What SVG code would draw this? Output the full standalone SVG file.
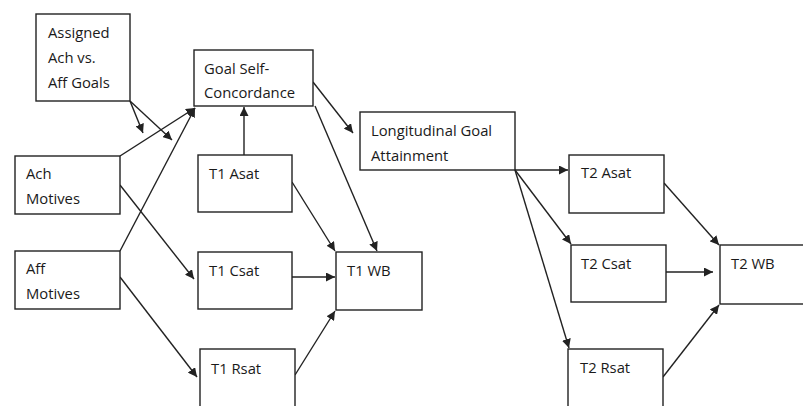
<svg xmlns="http://www.w3.org/2000/svg" width="803" height="406" viewBox="0 0 803 406">
<style>
.box{fill:#fff;stroke:#222;stroke-width:1.4}
.t{font-family:"Open Sans","Liberation Sans",sans-serif;font-size:14.8px;fill:#1a1a1a}
.c{fill:none;stroke:#222;stroke-width:1.4;marker-end:url(#ah)}
</style>
<defs>
<marker id="ah" viewBox="0 0 10 10" refX="10" refY="5" markerWidth="9" markerHeight="9" markerUnits="userSpaceOnUse" orient="auto">
<path d="M0,0 L10,5 L0,10 z" fill="#222"/>
</marker>
</defs>
<rect width="803" height="406" fill="#fff"/>
<g id="connectors">
<line class="c" x1="130" y1="101" x2="143" y2="133"/>
<line class="c" x1="130" y1="101" x2="172" y2="140"/>
<line class="c" x1="120" y1="156" x2="195" y2="108"/>
<line class="c" x1="120" y1="251" x2="195" y2="108"/>
<line class="c" x1="244" y1="155" x2="244" y2="107"/>
<line class="c" x1="313" y1="82" x2="353" y2="133"/>
<line class="c" x1="315" y1="106" x2="377" y2="251"/>
<line class="c" x1="120" y1="185" x2="194" y2="279"/>
<line class="c" x1="120" y1="277" x2="197" y2="377"/>
<line class="c" x1="292" y1="182" x2="335" y2="251"/>
<line class="c" x1="292" y1="277" x2="335" y2="277"/>
<line class="c" x1="295" y1="375" x2="335" y2="311"/>
<line class="c" x1="515" y1="170" x2="568" y2="170"/>
<line class="c" x1="515" y1="170" x2="571" y2="244"/>
<line class="c" x1="515" y1="170" x2="569" y2="348"/>
<line class="c" x1="664" y1="183" x2="719" y2="245"/>
<line class="c" x1="666" y1="272" x2="713" y2="272"/>
<line class="c" x1="663" y1="377" x2="719" y2="305"/>
</g>
<g id="assigned"><rect class="box" x="36" y="14" width="94" height="87"/><text class="t" x="48" y="38">Assigned</text><text class="t" x="48" y="63">Ach vs.</text><text class="t" x="48" y="88">Aff Goals</text></g>
<g id="goal-sc"><rect class="box" x="194" y="50" width="119" height="56"/><text class="t" x="204" y="74">Goal Self-</text><text class="t" x="204" y="98">Concordance</text></g>
<g id="longitudinal"><rect class="box" x="360" y="112" width="155" height="58"/><text class="t" x="371" y="136">Longitudinal Goal</text><text class="t" x="371" y="161">Attainment</text></g>
<g id="ach-motives"><rect class="box" x="15" y="156" width="105" height="58"/><text class="t" x="26" y="179">Ach</text><text class="t" x="26" y="204">Motives</text></g>
<g id="t1-asat"><rect class="box" x="198" y="155" width="94" height="57"/><text class="t" x="209" y="179">T1 Asat</text></g>
<g id="aff-motives"><rect class="box" x="15" y="251" width="105" height="58"/><text class="t" x="26" y="274">Aff</text><text class="t" x="26" y="299">Motives</text></g>
<g id="t1-csat"><rect class="box" x="198" y="252" width="94" height="57"/><text class="t" x="209" y="276">T1 Csat</text></g>
<g id="t1-wb"><rect class="box" x="336" y="252" width="86" height="58"/><text class="t" x="347" y="276">T1 WB</text></g>
<g id="t1-rsat"><rect class="box" x="200" y="349" width="95" height="70"/><text class="t" x="211" y="374">T1 Rsat</text></g>
<g id="t2-asat"><rect class="box" x="569" y="155" width="95" height="58"/><text class="t" x="581" y="178">T2 Asat</text></g>
<g id="t2-csat"><rect class="box" x="571" y="245" width="95" height="57"/><text class="t" x="581" y="269">T2 Csat</text></g>
<g id="t2-wb"><rect class="box" x="720" y="245" width="100" height="59"/><text class="t" x="731" y="269">T2 WB</text></g>
<g id="t2-rsat"><rect class="box" x="568" y="349" width="95" height="70"/><text class="t" x="580" y="373">T2 Rsat</text></g>
</svg>
